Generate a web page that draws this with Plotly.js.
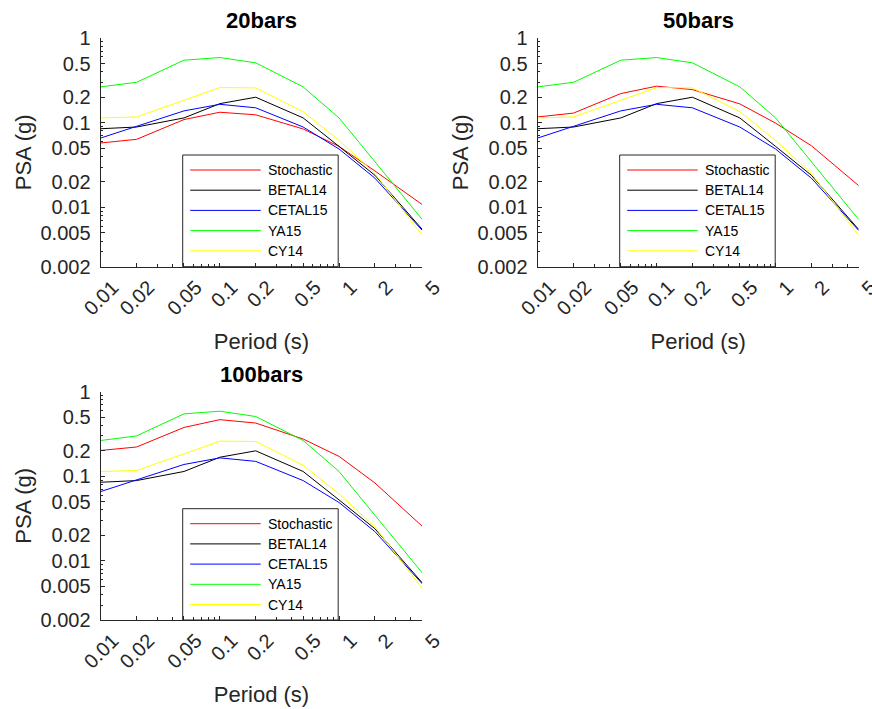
<!DOCTYPE html>
<html>
<head>
<meta charset="utf-8">
<script src="https://cdn.plot.ly/plotly-3.0.1.min.js"></script>
<style>
  html, body { margin: 0; padding: 0; background: #ffffff; }
  #chart { width: 872px; height: 709px; }
</style>
</head>
<body>
<div id="chart"></div>
<script>
// ---------------- data ----------------
const periods = [0.01, 0.02, 0.05, 0.1, 0.2, 0.5, 1, 2, 5];

const stochastic20  = [0.0577, 0.0637, 0.109, 0.133, 0.124, 0.0844, 0.0526, 0.0270, 0.0108];
const stochastic50  = [0.117, 0.130, 0.221, 0.270, 0.246, 0.167, 0.099, 0.0536, 0.0181];
const stochastic100 = [0.202, 0.222, 0.378, 0.467, 0.426, 0.276, 0.172, 0.0835, 0.0256];

const BETAL14 = [0.085, 0.089, 0.114, 0.168, 0.200, 0.114, 0.0526, 0.0240, 0.0055];
const CETAL15 = [0.066, 0.0907, 0.138, 0.165, 0.150, 0.089, 0.049, 0.0222, 0.00535];
const YA15    = [0.265, 0.300, 0.547, 0.588, 0.509, 0.265, 0.114, 0.0344, 0.0072];
const CY14    = [0.114, 0.117, 0.184, 0.260, 0.258, 0.135, 0.062, 0.0252, 0.00470];

const panelTitles = ['20bars', '50bars', '100bars'];
const stochasticByPanel = [stochastic20, stochastic50, stochastic100];

const seriesNames  = ['Stochastic', 'BETAL14', 'CETAL15', 'YA15', 'CY14'];
const seriesColors = ['#ff0000', '#000000', '#0000ff', '#00ff00', '#ffff00'];

const xTickVals = [0.01, 0.02, 0.05, 0.1, 0.2, 0.5, 1, 2, 5];
const xTickText = ['0.01', '0.02', '0.05', '0.1', '0.2', '0.5', '1', '2', '5'];
const yTickVals = [0.002, 0.005, 0.01, 0.02, 0.05, 0.1, 0.2, 0.5, 1];
const yTickText = ['0.002', '0.005', '0.01', '0.02', '0.05', '0.1', '0.2', '0.5', '1'];
const xMinorVals = [0.03, 0.04, 0.06, 0.07, 0.08, 0.09, 0.3, 0.4, 0.6, 0.7, 0.8, 0.9, 3, 4];
const yMinorVals = [0.003, 0.004, 0.006, 0.007, 0.008, 0.009, 0.03, 0.04, 0.06, 0.07, 0.08, 0.09, 0.3, 0.4, 0.6, 0.7, 0.8, 0.9];

// ---------------- layout geometry (pixels) ----------------
const W = 872, H = 709;
const FONT = 'Liberation Sans, Arial, Helvetica, sans-serif';
const AX = '#262626';
const panels = [
  { left: 100.7, right: 422.3, top: 38.0,  bottom: 266.7 },
  { left: 537.7, right: 858.7, top: 38.0,  bottom: 266.7 },
  { left: 100.7, right: 422.3, top: 391.7, bottom: 620.0 }
];
const px = v => v / W;
const py = v => 1 - v / H;

const traces = [];
const layout = {
  width: W, height: H,
  margin: { l: 0, r: 0, t: 0, b: 0, pad: 0 },
  paper_bgcolor: '#ffffff',
  plot_bgcolor: '#ffffff',
  showlegend: false,
  font: { family: FONT, color: AX },
  shapes: [],
  annotations: []
};

panels.forEach((p, i) => {
  const n = i === 0 ? '' : String(i + 1);
  const xa = 'x' + n, ya = 'y' + n;
  const seriesData = [stochasticByPanel[i], BETAL14, CETAL15, YA15, CY14];
  seriesData.forEach((vals, k) => {
    traces.push({
      type: 'scatter', mode: 'lines',
      x: periods, y: vals,
      name: seriesNames[k],
      line: { color: seriesColors[k], width: 1 },
      xaxis: xa, yaxis: ya,
      hoverinfo: 'x+y+name'
    });
  });

  layout['xaxis' + n] = {
    type: 'log', range: [Math.log10(0.01), Math.log10(5)],
    domain: [px(p.left), px(p.right)], anchor: ya,
    tickmode: 'array', tickvals: xTickVals, ticktext: xTickText,
    tickangle: -45, ticklabelshift: 12, ticklabeloverflow: 'allow',
    ticks: 'inside', ticklen: 4, tickwidth: 1, tickcolor: AX,
    showline: true, linecolor: AX, linewidth: 1.3,
    showgrid: false, zeroline: false,
    tickfont: { family: FONT, size: 20, color: AX },
    minor: { tickmode: 'array', tickvals: xMinorVals, ticks: 'inside', ticklen: 2.5, tickwidth: 1, tickcolor: AX, showgrid: false },
    title: { text: 'Period (s)', font: { family: FONT, size: 22, color: AX }, standoff: 15 },
    automargin: false
  };
  layout['yaxis' + n] = {
    type: 'log', range: [Math.log10(0.002), 0],
    domain: [py(p.bottom), py(p.top)], anchor: xa,
    tickmode: 'array', tickvals: yTickVals, ticktext: yTickText,
    ticks: 'inside', ticklen: 4, tickwidth: 1, tickcolor: AX,
    ticklabelstandoff: 5, ticklabeloverflow: 'allow',
    showline: true, linecolor: AX, linewidth: 1.3,
    showgrid: false, zeroline: false,
    tickfont: { family: FONT, size: 20, color: AX },
    minor: { tickmode: 'array', tickvals: yMinorVals, ticks: 'inside', ticklen: 2.5, tickwidth: 1, tickcolor: AX, showgrid: false },
    title: { text: 'PSA (g)', font: { family: FONT, size: 22, color: AX }, standoff: 2 },
    automargin: false
  };

  // panel title
  layout.annotations.push({
    xref: 'paper', yref: 'paper',
    x: px((p.left + p.right) / 2), y: py(p.top - 17.5),
    xanchor: 'center', yanchor: 'middle',
    text: '<b>' + panelTitles[i] + '</b>',
    showarrow: false,
    font: { family: FONT, size: 22, color: '#000000' }
  });

  // legend box (drawn manually to mimic the long line samples)
  const lx0 = p.left + 82, lx1 = lx0 + 155.5;
  const ly0 = p.top + 117, ly1 = p.bottom;
  layout.shapes.push({
    type: 'rect', xref: 'paper', yref: 'paper', layer: 'below',
    x0: px(lx0), x1: px(lx1), y0: py(ly1), y1: py(ly0),
    line: { color: AX, width: 1 }, fillcolor: '#ffffff'
  });
  seriesNames.forEach((name, k) => {
    const ry = ly0 + 15 + k * 20.2;
    layout.shapes.push({
      type: 'line', xref: 'paper', yref: 'paper', layer: 'above',
      x0: px(lx0 + 7.5), x1: px(lx0 + 78), y0: py(ry), y1: py(ry),
      line: { color: seriesColors[k], width: 1 }
    });
    layout.annotations.push({
      xref: 'paper', yref: 'paper',
      x: px(lx0 + 83), y: py(ry),
      xanchor: 'left', yanchor: 'middle',
      text: name, showarrow: false,
      font: { family: FONT, size: 14, color: '#000000' }
    });
  });
});

Plotly.newPlot('chart', traces, layout, { displayModeBar: false, staticPlot: false });
</script>
</body>
</html>
